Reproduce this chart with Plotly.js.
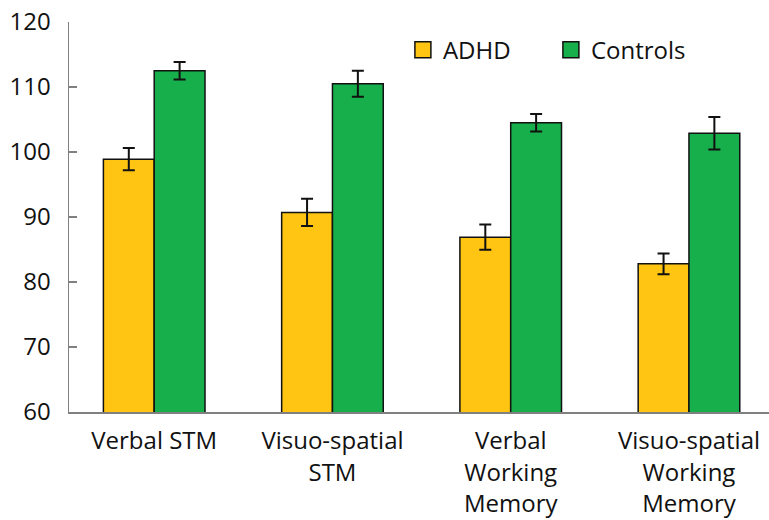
<!DOCTYPE html>
<html>
<head>
<meta charset="utf-8">
<script src="https://cdn.plot.ly/plotly-3.0.1.min.js"></script>
<style>html,body{margin:0;padding:0;background:#fff;}#chart{width:769px;height:520px;}</style>
</head>
<body>
<div id="chart"></div>
<script>
const categories = ["Verbal STM", "Visuo-spatial<br>STM", "Verbal<br>Working<br>Memory", "Visuo-spatial<br>Working<br>Memory"];
const adhdValues = [98.9, 90.7, 86.9, 82.8];
const adhdErrors = [1.7, 2.1, 1.95, 1.6];
const controlValues = [112.5, 110.5, 104.5, 102.9];
const controlErrors = [1.35, 2.0, 1.35, 2.5];
const yTicks = [60, 70, 80, 90, 100, 110, 120];

const yellow = "#FFC512";
const green = "#17AF4B";
const fontFam = "'Open Sans', 'Noto Sans', sans-serif";

const traces = [
  {type: "bar", name: "ADHD", x: categories, y: adhdValues, showlegend: false,
   marker: {color: yellow, line: {color: "#111", width: 1.5}},
   error_y: {type: "data", array: adhdErrors, visible: true, color: "#111", thickness: 2, width: 6}},
  {type: "bar", name: "Controls", x: categories, y: controlValues, showlegend: false,
   marker: {color: green, line: {color: "#111", width: 1.5}},
   error_y: {type: "data", array: controlErrors, visible: true, color: "#111", thickness: 2, width: 6}},
  {type: "scatter", mode: "markers", name: "ADHD", x: [categories[0]], y: [null],
   marker: {symbol: "square", size: 18, color: yellow, line: {color: "#111", width: 1.5}}},
  {type: "scatter", mode: "markers", name: "Controls", x: [categories[0]], y: [null],
   marker: {symbol: "square", size: 18, color: green, line: {color: "#111", width: 1.5}}}
];

const layout = {
  width: 769, height: 520,
  margin: {l: 69, r: 0, t: 22, b: 108, autoexpand: false},
  paper_bgcolor: "#fff", plot_bgcolor: "#fff",
  font: {family: fontFam, size: 24, color: "#111"},
  barmode: "group", bargap: 0.43, bargroupgap: 0,
  showlegend: true,
  legend: {orientation: "h", x: 0.477, xanchor: "left", y: 0.928, yanchor: "middle",
           font: {size: 24, family: fontFam, color: "#111"}, entrywidth: 103, entrywidthmode: "pixels",
           itemsizing: "trace", bgcolor: "rgba(0,0,0,0)"},
  xaxis: {type: "category", range: [-0.478, 3.449], showline: true, linecolor: "#808080", linewidth: 1.5,
          ticks: "", showgrid: false, zeroline: false, tickfont: {size: 24}, automargin: false,
          ticklabelstandoff: 7},
  yaxis: {range: [60, 120], tickvals: yTicks, showline: true, linecolor: "#808080", linewidth: 1.5,
          ticks: "inside", ticklen: 8, tickcolor: "#808080", tickwidth: 1.5, showgrid: false, zeroline: false,
          ticklabelstandoff: 12, tickfont: {size: 24}, automargin: false}
};

Plotly.newPlot("chart", traces, layout, {displayModeBar: false, staticPlot: true});
</script>
</body>
</html>
